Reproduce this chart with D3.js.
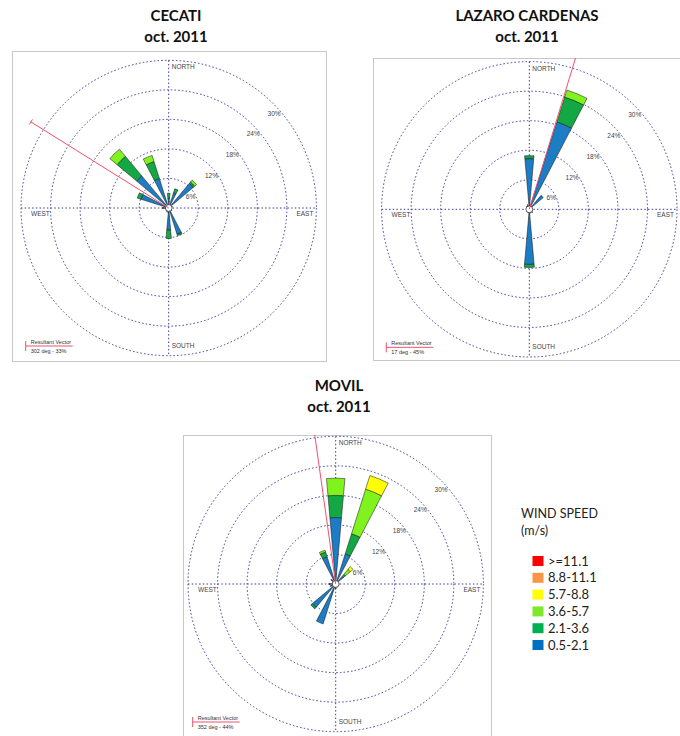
<!DOCTYPE html>
<html><head><meta charset="utf-8">
<script src="https://cdn.jsdelivr.net/npm/d3@7"></script>
<style>body{margin:0;background:#fff}svg{display:block}</style>
</head><body>
<svg id="c" width="680" height="736"></svg>
<script>
// ---- data ----
const directions = ["N","NNE","NE","ENE","E","ESE","SE","SSE","S","SSW","SW","WSW","W","WNW","NW","NNW"];
const speedClasses = [">=11.1","8.8-11.1","5.7-8.8","3.6-5.7","2.1-3.6","0.5-2.1"];
const ringTicks = [6,12,18,24,30];
const stationNames = ["CECATI","LAZARO CARDENAS","MOVIL"];
const periodLabel = "oct. 2011";
// frequencies (%) per direction, by speed class (0.5-2.1, 2.1-3.6, 3.6-5.7, 5.7-8.8)
const cecati_0_5_2_1 = [2.0,3.2,6.5,0.8,0.5,0.6,0.8,5.6,4.5,0.9,0.7,0.6,1.1,5.9,8.5,6.3];
const cecati_2_1_3_6 = [1.0,0.9,0.4,0,0,0,0,0.3,1.7,0,0,0,0.2,0.8,5.2,3.6];
const cecati_3_6_5_7 = [0,0,0.5,0,0,0,0,0,0,0,0,0,0,0,1.9,1.3];
const cecati_5_7_8_8 = [0,0,0,0,0,0,0,0,0,0,0,0,0,0,0,0];
const lazaro_0_5_2_1 = [10.3,18.6,3.7,0.6,0.5,0.7,0.9,0.8,11.2,0.7,0.6,0.4,0.5,0.5,0.8,1.0];
const lazaro_2_1_3_6 = [0.6,5.3,0,0,0,0,0,0,0.6,0,0,0,0,0,0,0];
const lazaro_3_6_5_7 = [0,1.5,0,0,0,0,0,0,0,0,0,0,0,0,0,0];
const lazaro_5_7_8_8 = [0,0,0,0,0,0,0,0,0,0,0,0,0,0,0,0];
const movil_0_5_2_1 = [13.5,6.4,2.0,0.6,0.7,0.5,0.6,0.7,1.0,8.5,6.2,1.2,1.4,0.7,1.3,5.8];
const movil_2_1_3_6 = [4.5,4.3,0.6,0,0,0,0,0,0,0,0.4,0,0,0,0,1.0];
const movil_3_6_5_7 = [3.5,9.5,1.3,0,0,0,0,0,0,0,0,0,0,0,0,0.4];
const movil_5_7_8_8 = [0,2.9,0.7,0,0,0,0,0,0,0,0,0,0,0,0,0];
const resultantDeg = [302,17,352];
const resultantPct = [33,45,44];

// ---- styles / layout ----
const classColors = {"0.5-2.1":"#1c7cc4","2.1-3.6":"#13a844","3.6-5.7":"#80f21e","5.7-8.8":"#ffff00","8.8-11.1":"#f79646",">=11.1":"#ff0000"};
const legendColors = {">=11.1":"#ff0000","8.8-11.1":"#f79646","5.7-8.8":"#ffff00","3.6-5.7":"#7ee82a","2.1-3.6":"#00b050","0.5-2.1":"#0070c0"};
const panels = [
  {cx:168.7, cy:208, box:[12,51,326,361], tx:176, ty:21, stack:[cecati_0_5_2_1,cecati_2_1_3_6,cecati_3_6_5_7,cecati_5_7_8_8]},
  {cx:529.3, cy:209.3, box:[373,58,690,360], tx:527, ty:21, stack:[lazaro_0_5_2_1,lazaro_2_1_3_6,lazaro_3_6_5_7,lazaro_5_7_8_8]},
  {cx:335.7, cy:584, box:[183,435,491,745], tx:339, ty:391, stack:[movil_0_5_2_1,movil_2_1_3_6,movil_3_6_5_7,movil_5_7_8_8]}
];
const stackClasses = ["0.5-2.1","2.1-3.6","3.6-5.7","5.7-8.8"];

const svg = d3.select("#c");
const r = d3.scaleLinear().domain([0,30]).range([0,147.7]);
const ang = d3.scaleLinear().domain([0,16]).range([0,2*Math.PI]);
const half = 5*Math.PI/180;
const gridCol = "#3a3a9e";
const defs = svg.append("defs");

panels.forEach((p,i)=>{
  // title
  const t = svg.append("text").attr("x",p.tx).attr("y",p.ty).attr("text-anchor","middle")
    .attr("font-family","Lato, 'Open Sans', sans-serif").attr("font-weight","bold").attr("font-size",15).attr("fill","#111");
  t.append("tspan").attr("x",p.tx).text(stationNames[i]);
  t.append("tspan").attr("x",p.tx).attr("dy",21).text(periodLabel);

  // box
  const [x0,y0,x1,y1] = p.box;
  svg.append("rect").attr("x",x0+0.5).attr("y",y0+0.5).attr("width",x1-x0).attr("height",y1-y0)
    .attr("fill","#fff").attr("stroke","#c8c8c8");
  defs.append("clipPath").attr("id","clip"+i).append("rect").attr("x",x0).attr("y",y0).attr("width",x1-x0).attr("height",y1-y0);

  const g = svg.append("g").attr("transform",`translate(${p.cx},${p.cy})`);
  const gc = svg.append("g").attr("clip-path",`url(#clip${i})`).append("g").attr("transform",`translate(${p.cx},${p.cy})`);

  // rings
  g.selectAll("circle.ring").data(ringTicks).join("circle").attr("class","ring")
    .attr("r",d=>r(d)).attr("fill","none").attr("stroke",gridCol).attr("stroke-width",1).attr("stroke-dasharray","1.5,2.2");
  const R = r(30);
  g.append("line").attr("x1",-R).attr("x2",R).attr("y1",0).attr("y2",0).attr("stroke",gridCol).attr("stroke-dasharray","1.5,2.2");
  g.append("line").attr("y1",-R).attr("y2",R).attr("x1",0).attr("x2",0).attr("stroke",gridCol).attr("stroke-dasharray","1.5,2.2");

  // ring labels
  g.selectAll("text.rl").data(ringTicks).join("text").attr("class","rl")
    .attr("x",d=>r(d)*Math.SQRT1_2+1).attr("y",d=>-r(d)*Math.SQRT1_2+12)
    .attr("text-anchor","middle").attr("font-family","Liberation Sans, Arial, sans-serif").attr("font-size",6.5).attr("fill","#444")
    .text(d=>d+"%");

  // compass labels
  const cl = {"font-family":"Liberation Sans, Arial, sans-serif","font-size":6.5,"fill":"#444"};
  const addT=(x,y,a,s)=>{const e=g.append("text").attr("x",x).attr("y",y).attr("text-anchor",a).text(s);Object.entries(cl).forEach(([k,v])=>e.attr(k,v));};
  addT(3,-R+9,"start","NORTH");
  addT(3,R-8,"start","SOUTH");
  addT(-R+10,8,"start","WEST");
  addT(R-3,8,"end","EAST");

  // petals
  const arc = d3.arc();
  directions.forEach((d,k)=>{
    let acc = 0;
    p.stack.forEach((arr,c)=>{
      const v = arr[k];
      if(v<=0) return;
      g.append("path").attr("d",arc({innerRadius:r(acc),outerRadius:r(acc+v),startAngle:ang(k)-half,endAngle:ang(k)+half}))
        .attr("fill",classColors[stackClasses[c]]).attr("stroke","#111").attr("stroke-width",0.5);
      acc += v;
    });
  });

  // calm circle
  g.append("circle").attr("r",3.4).attr("fill","#fff").attr("stroke","#222").attr("stroke-width",0.7);

  // resultant vector
  const a = resultantDeg[i]*Math.PI/180, L = r(resultantPct[i]);
  const ex = L*Math.sin(a), ey = -L*Math.cos(a);
  gc.append("line").attr("x1",0).attr("y1",0).attr("x2",ex).attr("y2",ey).attr("stroke","#f2506e").attr("stroke-width",1);
  const px = 3*Math.cos(a), py = 3*Math.sin(a);
  gc.append("line").attr("x1",ex-px).attr("y1",ey-py).attr("x2",ex+px).attr("y2",ey+py).attr("stroke","#f2506e").attr("stroke-width",1);

  // resultant legend
  const lx = -143, ly = 138;
  g.append("line").attr("x1",lx).attr("x2",lx+47).attr("y1",ly).attr("y2",ly).attr("stroke","#f2506e");
  g.append("line").attr("x1",lx).attr("x2",lx).attr("y1",ly-5).attr("y2",ly+5).attr("stroke","#f2506e");
  g.append("text").attr("x",lx+5).attr("y",ly-2.5).attr("font-family","Liberation Sans, Arial, sans-serif").attr("font-size",5.5).attr("fill","#333").text("Resultant Vector");
  g.append("text").attr("x",lx+5).attr("y",ly+7).attr("font-family","Liberation Sans, Arial, sans-serif").attr("font-size",5.5).attr("fill","#333").text(`${resultantDeg[i]} deg - ${resultantPct[i]}%`);
});

// speed legend
const lg = svg.append("g").attr("font-family","Lato, 'Open Sans', sans-serif").attr("fill","#222");
lg.append("text").attr("x",521).attr("y",518).attr("font-size",12.5).text("WIND SPEED");
lg.append("text").attr("x",521).attr("y",535).attr("font-size",12.5).text("(m/s)");
const ly = d3.scaleLinear().domain([0,1]).range([556,572.8]);
speedClasses.forEach((s,k)=>{
  lg.append("rect").attr("x",532.5).attr("y",ly(k)).attr("width",11).attr("height",10).attr("fill",legendColors[s]);
  lg.append("text").attr("x",548).attr("y",ly(k)+9.5).attr("font-size",13).text(s);
});
</script>
</body></html>
